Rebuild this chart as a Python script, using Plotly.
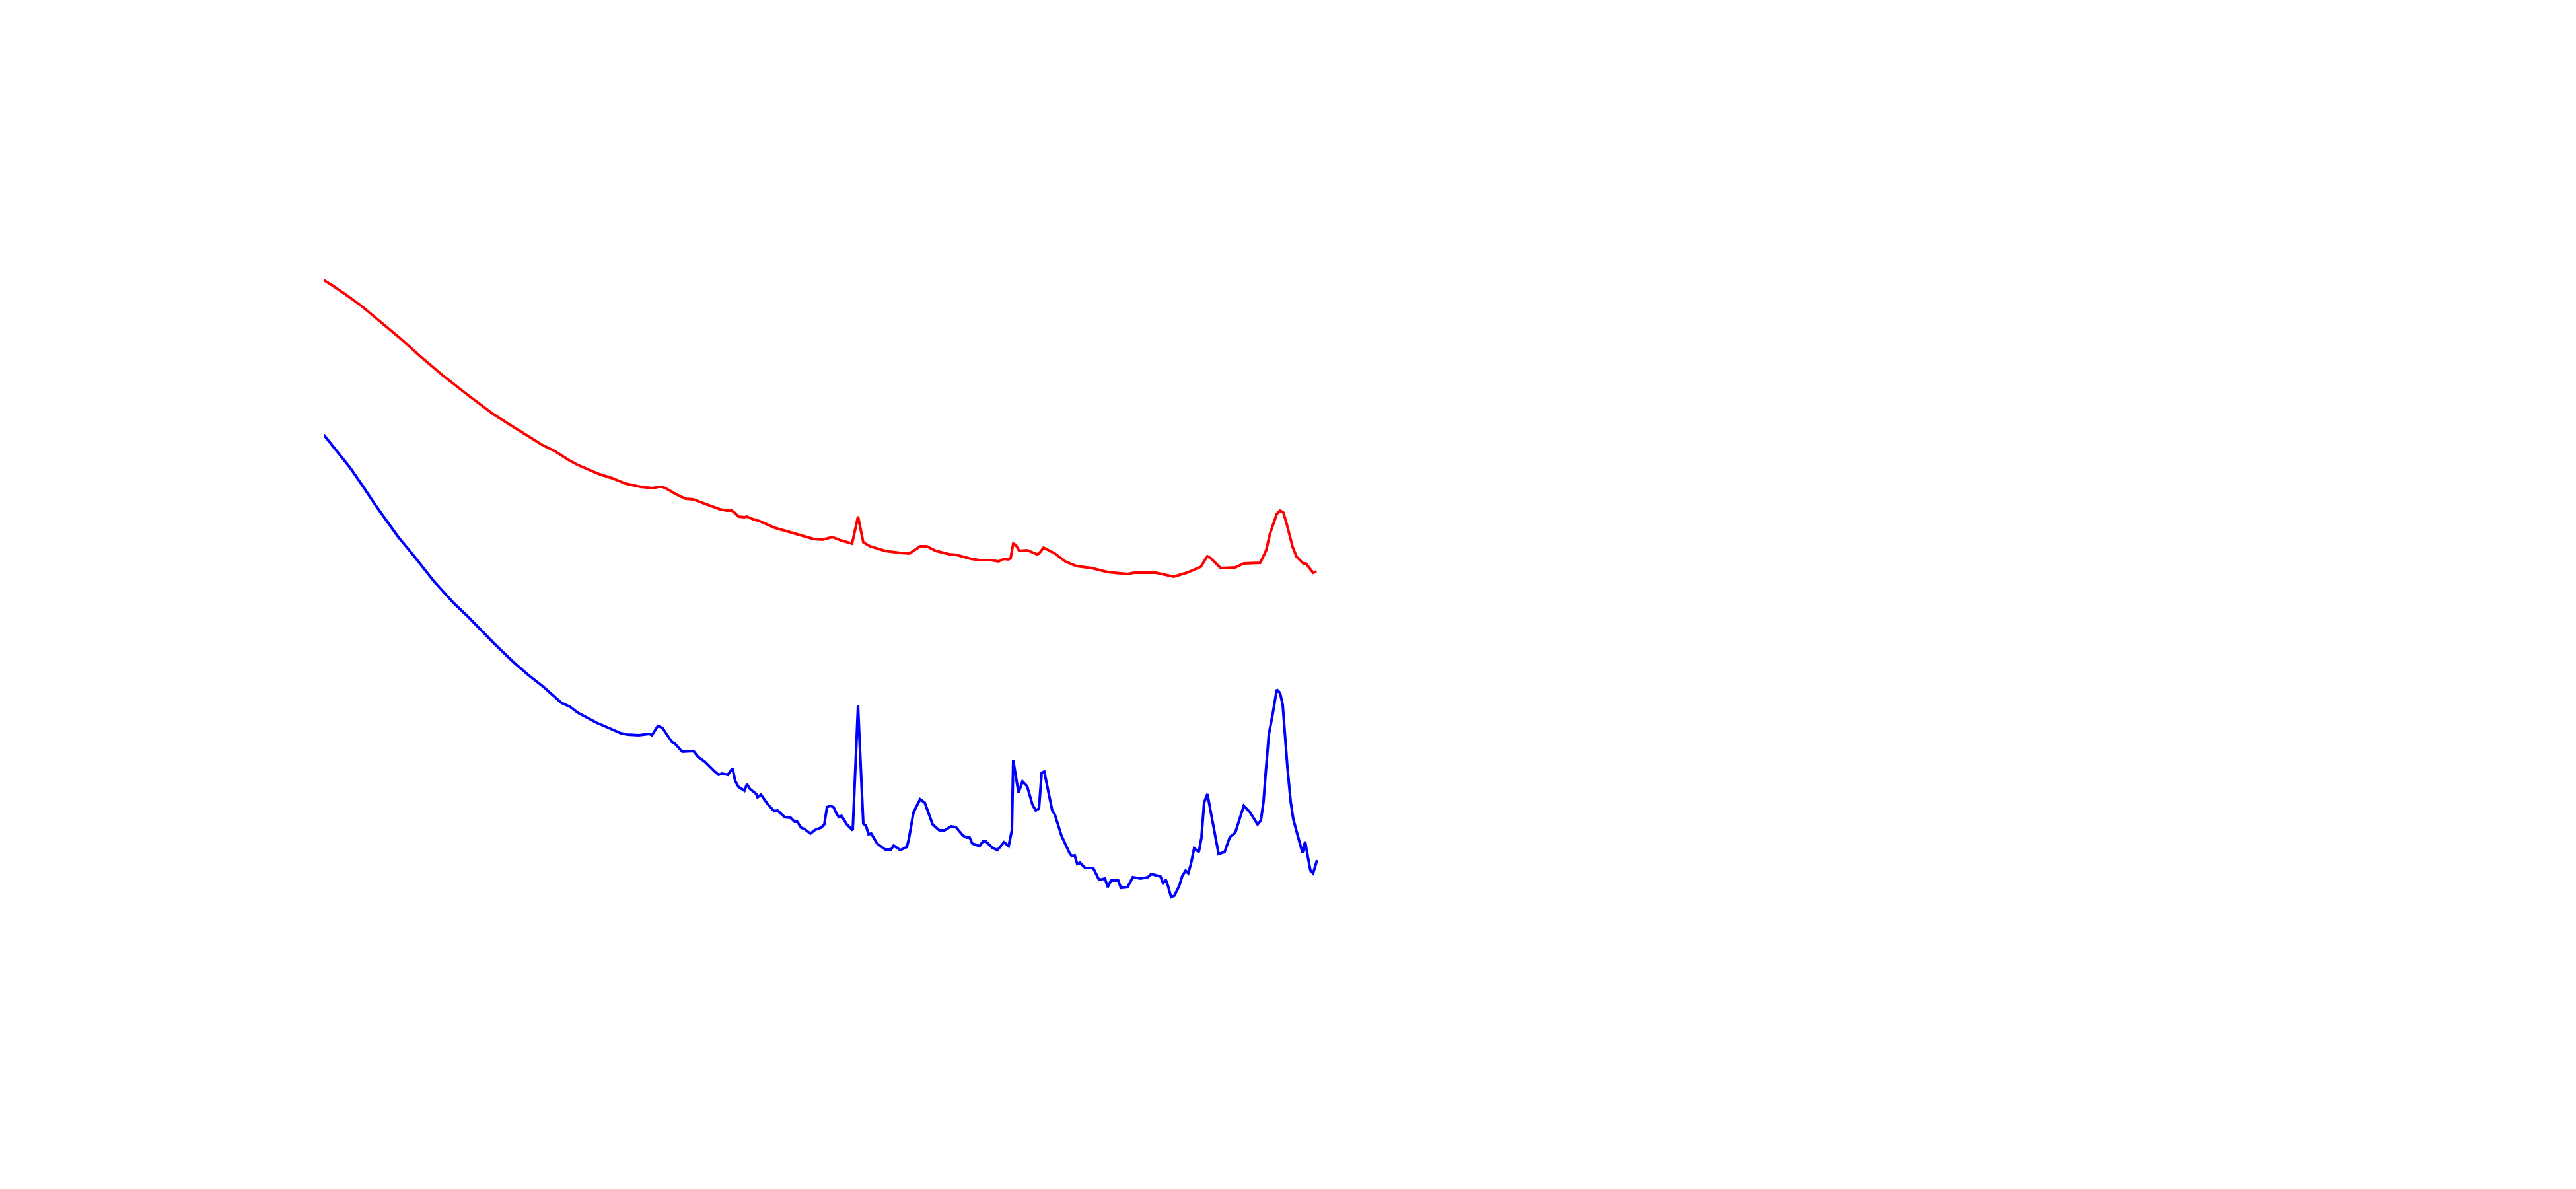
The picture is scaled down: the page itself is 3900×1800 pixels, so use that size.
import plotly.graph_objects as go

# 2-theta (degrees) and intensity (a.u.)
red_x = [5.00, 5.65, 6.60, 7.10, 7.85, 9.35, 10.85, 12.35, 14.00, 15.85, 17.85, 19.50, 21.50, 22.50,
         23.60, 24.25, 25.15, 25.90, 26.85, 27.85, 29.00, 29.90, 30.35, 30.65, 31.15, 31.65, 32.40,
         33.00, 33.50, 34.65, 35.00, 35.50, 35.90, 36.15, 36.40, 36.85, 37.05, 37.35, 38.00, 39.15,
         40.35, 41.35, 42.10, 42.75, 43.50, 44.15, 45.00, 45.45, 45.85, 46.35, 47.50, 48.65, 49.35,
         50.15, 50.65, 51.35, 52.35, 52.90, 54.00, 54.65, 55.50, 56.10, 56.50, 56.85, 57.00, 57.20,
         57.40, 57.65, 58.25, 59.00, 59.15, 59.50, 60.35, 61.15, 62.00, 63.15, 64.35, 65.85, 66.35,
         68.00, 68.65, 69.35, 70.35, 70.85, 71.40, 71.90, 72.15, 72.90, 74.00, 74.65, 75.65, 75.90,
         76.35, 76.65, 77.15, 77.40, 77.65, 77.90, 78.35, 78.65, 79.15, 79.35, 79.90, 80.15]
red_y = [976, 968, 955, 948, 937, 912, 887, 860, 832, 803, 773, 752, 727, 717,
         703, 696, 688, 682, 676, 668, 663, 661, 663, 663, 658, 652, 645,
         644, 640, 632, 629, 627, 627, 623, 618, 617, 618, 615, 611, 601,
         594, 588, 584, 583, 587, 582, 577, 618, 579, 573, 566, 563, 562,
         573, 573, 566, 561, 560, 554, 552, 552, 550, 554, 553, 555, 577,
         575, 566, 567, 561, 562, 571, 562, 550, 543, 540, 534, 531, 533,
         533, 530, 527, 533, 537, 542, 558, 555, 540, 541, 547, 547, 548,
         567, 593, 622, 627, 624, 607, 572, 557, 547, 547, 533, 535]

blue_x = [5.00, 6.00, 7.00, 8.00, 9.00, 10.65, 11.65, 13.35, 14.85, 16.00, 17.85, 19.35, 20.50, 21.65,
          23.00, 23.65, 24.25, 25.00, 25.65, 26.35, 27.50, 28.00, 28.65, 28.85, 29.65, 29.85, 30.30,
          30.65, 31.35, 31.60, 32.15, 33.00, 33.35, 33.85, 34.50, 34.90, 35.15, 35.60, 35.95, 36.15,
          36.40, 36.85, 37.05, 37.25, 37.75, 37.85, 38.10, 38.60, 39.10, 39.35, 39.90, 40.35, 40.65,
          40.85, 41.15, 41.40, 41.85, 42.15, 42.35, 42.65, 42.90, 43.10, 43.35, 43.60, 43.85, 44.00,
          44.20, 44.60, 45.05, 45.45, 45.85, 46.05, 46.25, 46.45, 46.90, 47.50, 47.95, 48.15, 48.65,
          49.15, 49.30, 49.65, 50.15, 50.50, 51.10, 51.60, 52.00, 52.50, 52.85, 53.40, 53.65, 53.90,
          54.10, 54.65, 54.90, 55.15, 55.60, 56.00, 56.50, 56.85, 57.10, 57.20, 57.60, 57.90, 58.25,
          58.65, 58.90, 59.15, 59.35, 59.55, 60.15, 60.35, 60.85, 61.15, 61.50, 61.65, 61.85, 62.05,
          62.25, 62.65, 63.25, 63.70, 64.15, 64.35, 64.60, 65.15, 65.35, 65.85, 66.25, 66.85, 67.40,
          67.65, 68.35, 68.55, 68.75, 68.90, 69.15, 69.40, 69.75, 70.00, 70.25, 70.45, 70.65, 70.90,
          71.25, 71.45, 71.65, 71.90, 72.35, 72.75, 73.20, 73.60, 74.00, 74.35, 74.65, 75.10, 75.70,
          75.95, 76.15, 76.30, 76.55, 76.85, 77.15, 77.40, 77.60, 77.95, 78.20, 78.40, 78.65, 78.90,
          79.10, 79.30, 79.50, 79.70, 79.90, 80.20]
blue_y = [742, 717, 692, 663, 633, 587, 563, 520, 487, 465, 427, 398, 378, 360,
          336, 330, 321, 313, 306, 300, 290, 288, 288, 287, 289, 287, 301,
          298, 277, 274, 262, 263, 254, 247, 234, 227, 229, 227, 237, 218,
          209, 203, 213, 206, 198, 193, 197, 183, 172, 173, 163, 162, 156,
          156, 147, 145, 138, 143, 145, 147, 152, 178, 180, 178, 167, 163,
          165, 152, 143, 332, 153, 150, 137, 138, 123, 114, 114, 120, 113,
          118, 130, 170, 190, 185, 152, 143, 143, 149, 148, 135, 132, 132,
          123, 119, 126, 126, 117, 113, 125, 119, 143, 249, 200, 217, 210,
          182, 173, 176, 230, 232, 173, 167, 135, 122, 107, 104, 105, 92,
          94, 86, 86, 68, 70, 57, 67, 67, 56, 57, 72, 70, 72,
          77, 73, 63, 68, 60, 42, 44, 58, 74, 82, 78, 92, 116,
          110, 132, 185, 198, 147, 107, 110, 133, 139, 163, 180, 171, 152,
          158, 187, 227, 288, 320, 356, 351, 333, 240, 187, 160, 140, 123,
          109, 126, 103, 82, 78, 98]

fig = go.Figure()
fig.add_trace(go.Scatter(x=red_x, y=red_y, mode="lines",
                         line=dict(color="#ff0000", width=4), showlegend=False))
fig.add_trace(go.Scatter(x=blue_x, y=blue_y, mode="lines",
                         line=dict(color="#0000ff", width=4), showlegend=False))

fig.update_layout(
    width=3900, height=1800,
    margin=dict(l=482, r=1913, t=392, b=408, autoexpand=False),
    paper_bgcolor="white", plot_bgcolor="white",
    xaxis=dict(range=[5, 80.25], visible=False),
    yaxis=dict(range=[0, 1000], visible=False),
)

fig.write_html("out.html")
